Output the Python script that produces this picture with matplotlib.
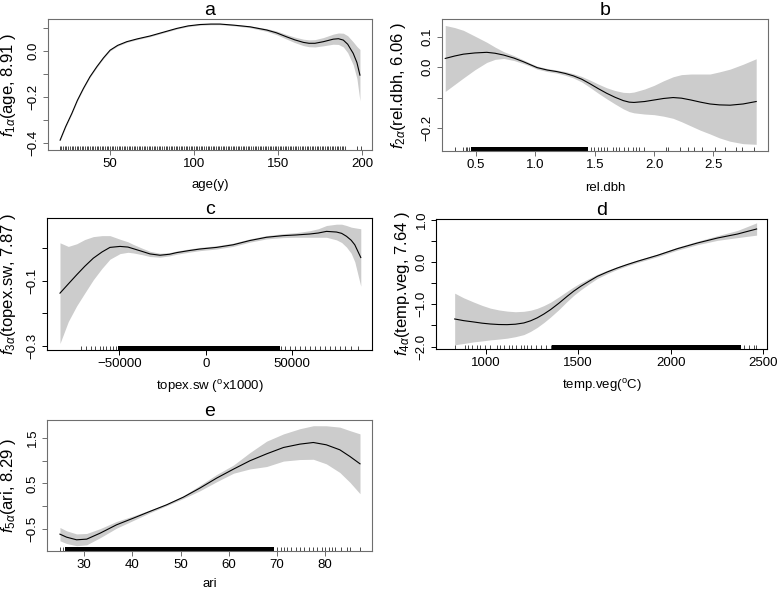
import numpy as np
import matplotlib
matplotlib.use('Agg')
import matplotlib.pyplot as plt

plt.rcParams['font.family'] = ['Liberation Sans', 'DejaVu Sans']
plt.rcParams['mathtext.fontset'] = 'custom'
plt.rcParams['mathtext.rm'] = 'Liberation Sans'
plt.rcParams['mathtext.it'] = 'Liberation Sans:italic'

# each panel: smooth term (fit) and half width of the grey confidence band (se)

# ---- panel a: age ----
a_x = [20.2, 23.5, 27.2, 30.5, 34.1, 38, 42.1, 46, 50, 54.5, 59.9, 66, 73.8, 81.5,
       89.7, 96.5, 103.6, 110, 115.5, 124, 133.3, 143.3, 149, 155.2, 160, 165.1,
       168.5, 172, 177, 182.9, 186, 188.9, 191.5, 194.8, 197, 198.8]
a_fit = [-0.389, -0.33, -0.272, -0.215, -0.163, -0.112, -0.068, -0.03, 0.004, 0.025,
         0.041, 0.053, 0.066, 0.082, 0.099, 0.110, 0.116, 0.118, 0.118, 0.113, 0.106,
         0.092, 0.080, 0.062, 0.049, 0.038, 0.034, 0.034, 0.041, 0.052, 0.054, 0.048,
         0.030, -0.010, -0.05, -0.105]
a_se = [0.003, 0.003, 0.003, 0.003, 0.003, 0.003, 0.003, 0.003, 0.003, 0.003, 0.003,
        0.003, 0.003, 0.003, 0.003, 0.003, 0.003, 0.003, 0.003, 0.003, 0.004, 0.006,
        0.008, 0.010, 0.012, 0.014, 0.015, 0.016, 0.018, 0.022, 0.025, 0.03, 0.037,
        0.05, 0.07, 0.112]
a_rug_first, a_rug_last = 20, 190          # every integer age observed
a_rug_extra = [196.8, 199.2]
a_rug_dense = []

# ---- panel b: rel.dbh ----
b_x = [0.24, 0.32, 0.393, 0.49, 0.59, 0.66, 0.733, 0.82, 0.90, 0.96, 1.014, 1.10,
       1.18, 1.25, 1.32, 1.39, 1.46, 1.53, 1.60, 1.67, 1.74, 1.79, 1.83, 1.92, 2.0,
       2.08, 2.16, 2.23, 2.31, 2.39, 2.47, 2.55, 2.64, 2.75, 2.86]
b_fit = [0.029, 0.037, 0.043, 0.047, 0.049, 0.046, 0.040, 0.030, 0.018, 0.008, -0.001,
         -0.009, -0.014, -0.020, -0.028, -0.039, -0.054, -0.070, -0.085, -0.098, -0.109,
         -0.114, -0.115, -0.112, -0.107, -0.102, -0.099, -0.101, -0.107, -0.114, -0.120,
         -0.123, -0.124, -0.120, -0.112]
b_se = [0.108, 0.093, 0.078, 0.055, 0.033, 0.02, 0.011, 0.008, 0.006, 0.005, 0.005,
        0.005, 0.005, 0.006, 0.007, 0.009, 0.012, 0.015, 0.018, 0.022, 0.027, 0.031,
        0.034, 0.041, 0.048, 0.058, 0.068, 0.077, 0.085, 0.092, 0.098, 0.108, 0.118,
        0.13, 0.14]
b_rug_extra = [0.322, 0.393, 0.415, 0.427, 0.443, 1.466, 1.494, 1.523, 1.551, 1.579,
               1.607, 1.65, 1.678, 1.706, 1.749, 1.777, 1.82, 1.847, 1.876, 1.918,
               2.10, 2.12, 2.215, 2.285, 2.34, 2.40, 2.51, 2.60, 2.69, 2.74, 2.84]
b_rug_dense = [(0.46, 1.44)]

# ---- panel c: topex.sw ----
c_x = [-84300, -79500, -74660, -70000, -65030, -60000, -55400, -49600, -45000, -41900,
       -37000, -32270, -26500, -21000, -16860, -10000, -3470, 6170, 15800, 25430, 35070,
       44700, 52000, 60110, 65000, 69750, 75530, 78500, 81300, 84000, 86100, 89570]
c_fit = [-0.138, -0.110, -0.082, -0.056, -0.031, -0.012, 0.002, 0.005, 0.003, -0.002,
         -0.010, -0.018, -0.022, -0.019, -0.014, -0.008, -0.003, 0.002, 0.010, 0.023,
         0.033, 0.038, 0.040, 0.043, 0.046, 0.051, 0.049, 0.045, 0.036, 0.024, 0.010,
         -0.029]
c_se = [0.154, 0.115, 0.095, 0.082, 0.066, 0.05, 0.036, 0.022, 0.016, 0.013, 0.01,
        0.008, 0.006, 0.005, 0.005, 0.005, 0.005, 0.005, 0.005, 0.005, 0.005, 0.006,
        0.007, 0.01, 0.013, 0.018, 0.024, 0.028, 0.033, 0.04, 0.052, 0.088]
c_rug_extra = [-71870, -68980, -66090, -64160, -61270, -59340, -57420, -55490, -53560,
               -52020, 43740, 45660, 48550, 51440, 54340, 57230, 60120, 63010, 65900,
               68790, 71680, 74570, 77460, 80350, 84200, 88050]
c_rug_dense = [(-50500, 42800)]

# ---- panel d: temp.veg ----
d_x = [832, 880, 935, 980, 1025, 1070, 1115, 1160, 1206, 1242, 1278, 1314, 1350, 1395,
       1440, 1475, 1513, 1558, 1603, 1657, 1711, 1765, 1819, 1928, 2036, 2144, 2253,
       2361, 2464]
d_fit = [-1.346, -1.385, -1.417, -1.445, -1.465, -1.477, -1.48, -1.47, -1.44, -1.39,
         -1.32, -1.23, -1.126, -0.975, -0.811, -0.69, -0.575, -0.455, -0.339, -0.235,
         -0.142, -0.06, 0.016, 0.157, 0.315, 0.449, 0.567, 0.661, 0.78]
d_se = [0.61, 0.54, 0.47, 0.42, 0.375, 0.345, 0.32, 0.295, 0.275, 0.25, 0.225, 0.2,
        0.175, 0.15, 0.12, 0.1, 0.085, 0.065, 0.05, 0.04, 0.032, 0.03, 0.03, 0.032,
        0.035, 0.04, 0.055, 0.085, 0.145]
d_rug_extra = [836, 890, 903, 926, 953, 971, 998, 1025, 1061, 1079, 1101, 1125, 1143,
               1161, 1188, 1206, 1224, 1242, 1269, 1296, 1323, 1350, 2397, 2424,
               2451, 2460]
d_rug_dense = [(1359, 2379)]

# ---- panel e: ari ----
e_x = [24.94, 26.3, 28.4, 30.5, 33.3, 36.7, 40.2, 43.6, 47.1, 50.6, 54.0, 57.5, 61.0,
       64.4, 67.9, 71.4, 74.8, 77.6, 80.3, 83.1, 85.2, 87.3]
e_fit = [-0.618, -0.684, -0.743, -0.728, -0.596, -0.412, -0.265, -0.118, 0.029, 0.199,
         0.397, 0.618, 0.816, 1.0, 1.154, 1.294, 1.368, 1.404, 1.353, 1.243, 1.096, 0.934]
e_se = [0.147, 0.14, 0.13, 0.125, 0.1, 0.074, 0.05, 0.03, 0.02, 0.03, 0.06, 0.08, 0.09,
        0.18, 0.28, 0.3, 0.34, 0.37, 0.42, 0.5, 0.57, 0.66]
e_rug_extra = [24.9, 25.5, 70.1, 70.8, 71.5, 72.2, 73.0, 73.9, 74.8, 75.6, 76.7, 77.6,
               78.4, 79.4, 80.1, 80.8, 81.5, 82.2, 83.3, 84.5, 85.3, 87.3]
e_rug_dense = [(26.0, 69.4)]

M = '\u2212'

panels = [
    dict(title='a', rect=[0.0618, 0.7453, 0.417, 0.2224], frame='#6e6e6e',
         x=a_x, fit=a_fit, se=a_se,
         rug=list(np.arange(a_rug_first, a_rug_last + 1)) + a_rug_extra, dense=a_rug_dense,
         xlim=(13, 206), ylim=(-0.432, 0.14),
         xt=[50, 100, 150, 200], xtl=['50', '100', '150', '200'],
         yt=[-0.4, -0.3, -0.2, -0.1, 0.0, 0.1], ytl=[M + '0.4', '', M + '0.2', '', '0.0', ''],
         xlabel='age(y)', ylabel=r'$f_{1\alpha}$(age, 8.91 )', ylx=-0.123, xly=-0.265),
    dict(title='b', rect=[0.5689, 0.7436, 0.4196, 0.2241], frame='#6e6e6e',
         x=b_x, fit=b_fit, se=b_se,
         rug=b_rug_extra, dense=b_rug_dense,
         xlim=(0.213, 2.96), ylim=(-0.274, 0.158),
         xt=[0.5, 1.0, 1.5, 2.0, 2.5], xtl=['0.5', '1.0', '1.5', '2.0', '2.5'],
         yt=[-0.2, -0.1, 0.0, 0.1], ytl=[M + '0.2', '', '0.0', '0.1'],
         xlabel='rel.dbh', ylabel=r'$f_{2\alpha}$(rel.dbh, 6.06 )', ylx=-0.135, xly=-0.28),
    dict(title='c', rect=[0.0605, 0.4058, 0.4183, 0.2241], frame='black',
         x=c_x, fit=c_fit, se=c_se,
         rug=c_rug_extra, dense=c_rug_dense,
         xlim=(-91800, 96070), ylim=(-0.312, 0.092),
         xt=[-50000, 0, 50000], xtl=[M + '50000', '0', '50000'],
         yt=[-0.3, -0.2, -0.1, 0.0], ytl=[M + '0.3', '', M + '0.1', ''],
         xlabel=r'topex.sw ($^{\mathrm{o}}$x1000)', ylabel=r'$f_{3\alpha}$(topex.sw, 7.87 )',
         ylx=-0.12, xly=-0.28),
    dict(title='d', rect=[0.5611, 0.4075, 0.426, 0.2207], frame='black',
         x=d_x, fit=d_fit, se=d_se,
         rug=d_rug_extra, dense=d_rug_dense,
         xlim=(731, 2520), ylim=(-2.055, 1.016),
         xt=[1000, 1500, 2000, 2500], xtl=['1000', '1500', '2000', '2500'],
         yt=[-2.0, -1.5, -1.0, -0.5, 0.0, 0.5, 1.0],
         ytl=[M + '2.0', '', M + '1.0', '', '0.0', '', '1.0'],
         xlabel=r'temp.veg($^{\mathrm{o}}$C)', ylabel=r'$f_{4\alpha}$(temp.veg, 7.64 )',
         ylx=-0.10, xly=-0.28),
    dict(title='e', rect=[0.0605, 0.0645, 0.4183, 0.2224], frame='#6e6e6e',
         x=e_x, fit=e_fit, se=e_se,
         rug=e_rug_extra, dense=e_rug_dense,
         xlim=(22.25, 89.8), ylim=(-0.99, 1.90),
         xt=[30, 40, 50, 60, 70, 80], xtl=['30', '40', '50', '60', '70', '80'],
         yt=[-0.5, 0.0, 0.5, 1.0, 1.5], ytl=[M + '0.5', '', '0.5', '', '1.5'],
         xlabel='ari', ylabel=r'$f_{5\alpha}$(ari, 8.29 )', ylx=-0.12, xly=-0.25),
]

fig = plt.figure(figsize=(7.77, 5.89), dpi=100)

for p in panels:
    ax = fig.add_axes(p['rect'])
    fit = np.array(p['fit'])
    se = np.array(p['se'])
    ax.fill_between(p['x'], fit - se, fit + se, color='#cccccc', lw=0)
    ax.plot(p['x'], fit, color='black', lw=0.8)

    # rug along the bottom
    xform = ax.get_xaxis_transform()
    ax.vlines(p['rug'], 0.0, 0.03, transform=xform, color='black', lw=0.5)
    for lo, hi in p['dense']:
        ax.axvspan(lo, hi, ymin=0.0, ymax=0.03, color='black', lw=0)

    ax.set_xlim(p['xlim'])
    ax.set_ylim(p['ylim'])
    ax.set_xticks(p['xt'])
    ax.set_xticklabels(p['xtl'])
    ax.set_yticks(p['yt'])
    ax.set_yticklabels(p['ytl'], rotation=90, va='center')
    ax.tick_params(direction='out', length=3.5, width=0.7, pad=2.5, labelsize=9.5,
                   color=p['frame'])
    for s in ax.spines.values():
        s.set_color(p['frame'])
        s.set_linewidth(0.8)

    ax.set_title(p['title'], fontsize=14, pad=3)
    ax.set_xlabel(p['xlabel'], fontsize=9.5, va='center')
    ax.xaxis.set_label_coords(0.5, p['xly'])
    ax.set_ylabel(p['ylabel'], fontsize=12, va='center')
    ax.yaxis.set_label_coords(p['ylx'], 0.5)

fig.savefig('out.png', dpi=100)
